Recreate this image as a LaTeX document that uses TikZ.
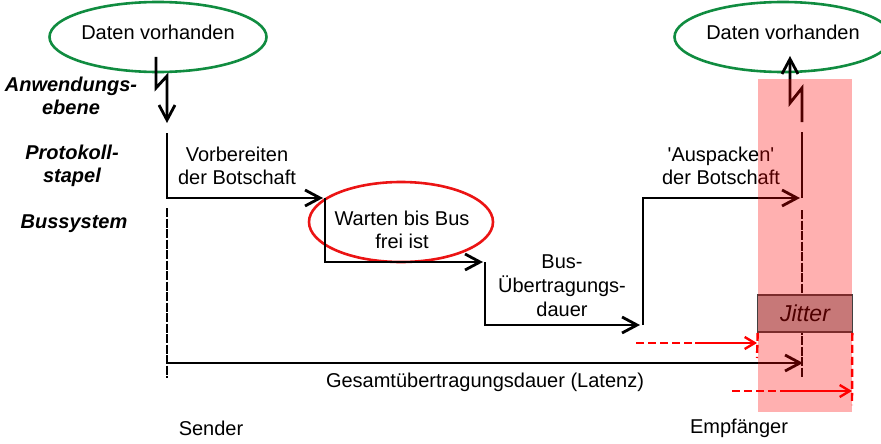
\documentclass[tikz,border=0pt]{standalone}
\usepackage{fontspec}
\setmainfont{Liberation Sans}
\usetikzlibrary{arrows.meta,shapes.geometric}
\definecolor{datagreen}{RGB}{16,140,64}
\definecolor{waitred}{RGB}{235,20,20}
\definecolor{jittergray}{RGB}{175,175,175}

\begin{document}
\begin{tikzpicture}[x=1pt,y=-1pt,
  every node/.style={font=\fontsize{20}{23.5}\selectfont,align=center,inner sep=0pt},
  layer/.style={font=\fontsize{20}{23.5}\selectfont\bfseries\itshape},
  bubble/.style={ellipse,draw,line width=2.6pt,minimum width=184pt,minimum height=70pt},
  flow/.style={black,line width=2.8pt,-{Straight Barb[length=15pt,width=16pt]}},
  plain/.style={black,line width=2.8pt},
  lifeline/.style={black,line width=2.8pt,dash pattern=on 9pt off 1.5pt},
  jitdash/.style={red,line width=2.4pt,dash pattern=on 8pt off 4pt},
  jitarr/.style={red,line width=2.4pt,-{Straight Barb[length=10pt,width=12pt]}}]
  \useasboundingbox (0,0) rectangle (881,444);

  % data bubbles
  \node[bubble,datagreen,text=black,text depth=9pt] (srcdata) at (158,37) {Daten vorhanden};
  \node[bubble,datagreen,text=black,text depth=9pt] (dstdata) at (783,37) {Daten vorhanden};
  \node[bubble,waitred,minimum height=80pt] (waitring) at (401,222) {};

  % layer labels
  \node[layer] (lblapp) at (71,96) {Anwendungs-\\ebene};
  \node[layer] (lblproto) at (72,166) {Protokoll-\\stapel};
  \node[layer] (lblbus) at (74,224) {Bussystem};

  % step texts
  \node (txtprepare) at (237,166) {Vorbereiten\\der Botschaft};
  \node (txtwait) at (402,230) {Warten bis Bus\\frei ist};
  \node[font=\fontsize{20}{24}\selectfont] (txtbus) at (562,286) {Bus-\\Übertragungs-\\dauer};
  \node (txtunpack) at (721,166) {\textquotesingle Auspacken\textquotesingle\\der Botschaft};
  \node (txtlatency) at (485,382) {Gesamtübertragungsdauer (Latenz)};
  \node (txtsender) at (211,428) {Sender};
  \node (txtreceiver) at (739,428) {Empfänger};

  % corner points
  \coordinate (a1) at (156,57);  \coordinate (a2) at (156,88);
  \coordinate (a3) at (167,76);  \coordinate (a4) at (167,123);
  \coordinate (p1) at (167,133); \coordinate (p2) at (167,198); \coordinate (p3) at (323,198);
  \coordinate (w1) at (325,198); \coordinate (w2) at (325,262); \coordinate (w3) at (483,262);
  \coordinate (b1) at (485,262); \coordinate (b2) at (485,325); \coordinate (b3) at (640,325);
  \coordinate (u1) at (643,325); \coordinate (u2) at (643,198); \coordinate (u3) at (800,198);
  \coordinate (sl1) at (167,208); \coordinate (sl2) at (167,378);
  \coordinate (rl1) at (802,132); \coordinate (rl2) at (802,198);
  \coordinate (rl3) at (802,210); \coordinate (rl4) at (802,377);
  \coordinate (r1) at (802,122); \coordinate (r2) at (802,88);
  \coordinate (r3) at (790,103); \coordinate (r4) at (790,56);
  \coordinate (lat1) at (167,363); \coordinate (lat2) at (803,363);

  % sender side
  \draw[flow] (a1) -- (a2) -- (a3) -- (a4);
  \draw[flow] (p1) -- (p2) -- (p3);
  \draw[flow] (w1) -- (w2) -- (w3);
  \draw[flow] (b1) -- (b2) -- (b3);
  \draw[flow] (u1) -- (u2) -- (u3);
  \draw[lifeline] (sl1) -- (sl2);
  \draw[flow] (lat1) -- (lat2);

  % receiver side
  \draw[plain] (rl1) -- (rl2);
  \draw[lifeline] (rl3) -- (rl4);
  \draw[flow] (r1) -- (r2) -- (r3) -- (r4);

  % jitter
  \node[draw=black!75,fill=jittergray,line width=1.6pt,minimum width=95pt,minimum height=37pt,
        font=\fontsize{23}{26}\selectfont\itshape] (jitterbox) at (805,313.5) {Jitter};
  \coordinate (j1) at (636,343); \coordinate (j2) at (695,343); \coordinate (j3) at (757,343);
  \coordinate (k1) at (732,391); \coordinate (k2) at (787,391); \coordinate (k3) at (852,391);
  \draw[jitdash] (j1) -- (j2);
  \draw[jitarr] (j2) -- (j3);
  \draw[jitdash] (k1) -- (k2);
  \draw[jitarr] (k2) -- (k3);
  \draw[jitdash] (jitterbox.south west) ++(1,0) -- (757,358);
  \draw[jitdash] (jitterbox.south east) ++(-1,0) -- (852,405);

  % jitter window
  \fill[red,opacity=0.31] (758,79) rectangle (852,412);
\end{tikzpicture}
\end{document}
